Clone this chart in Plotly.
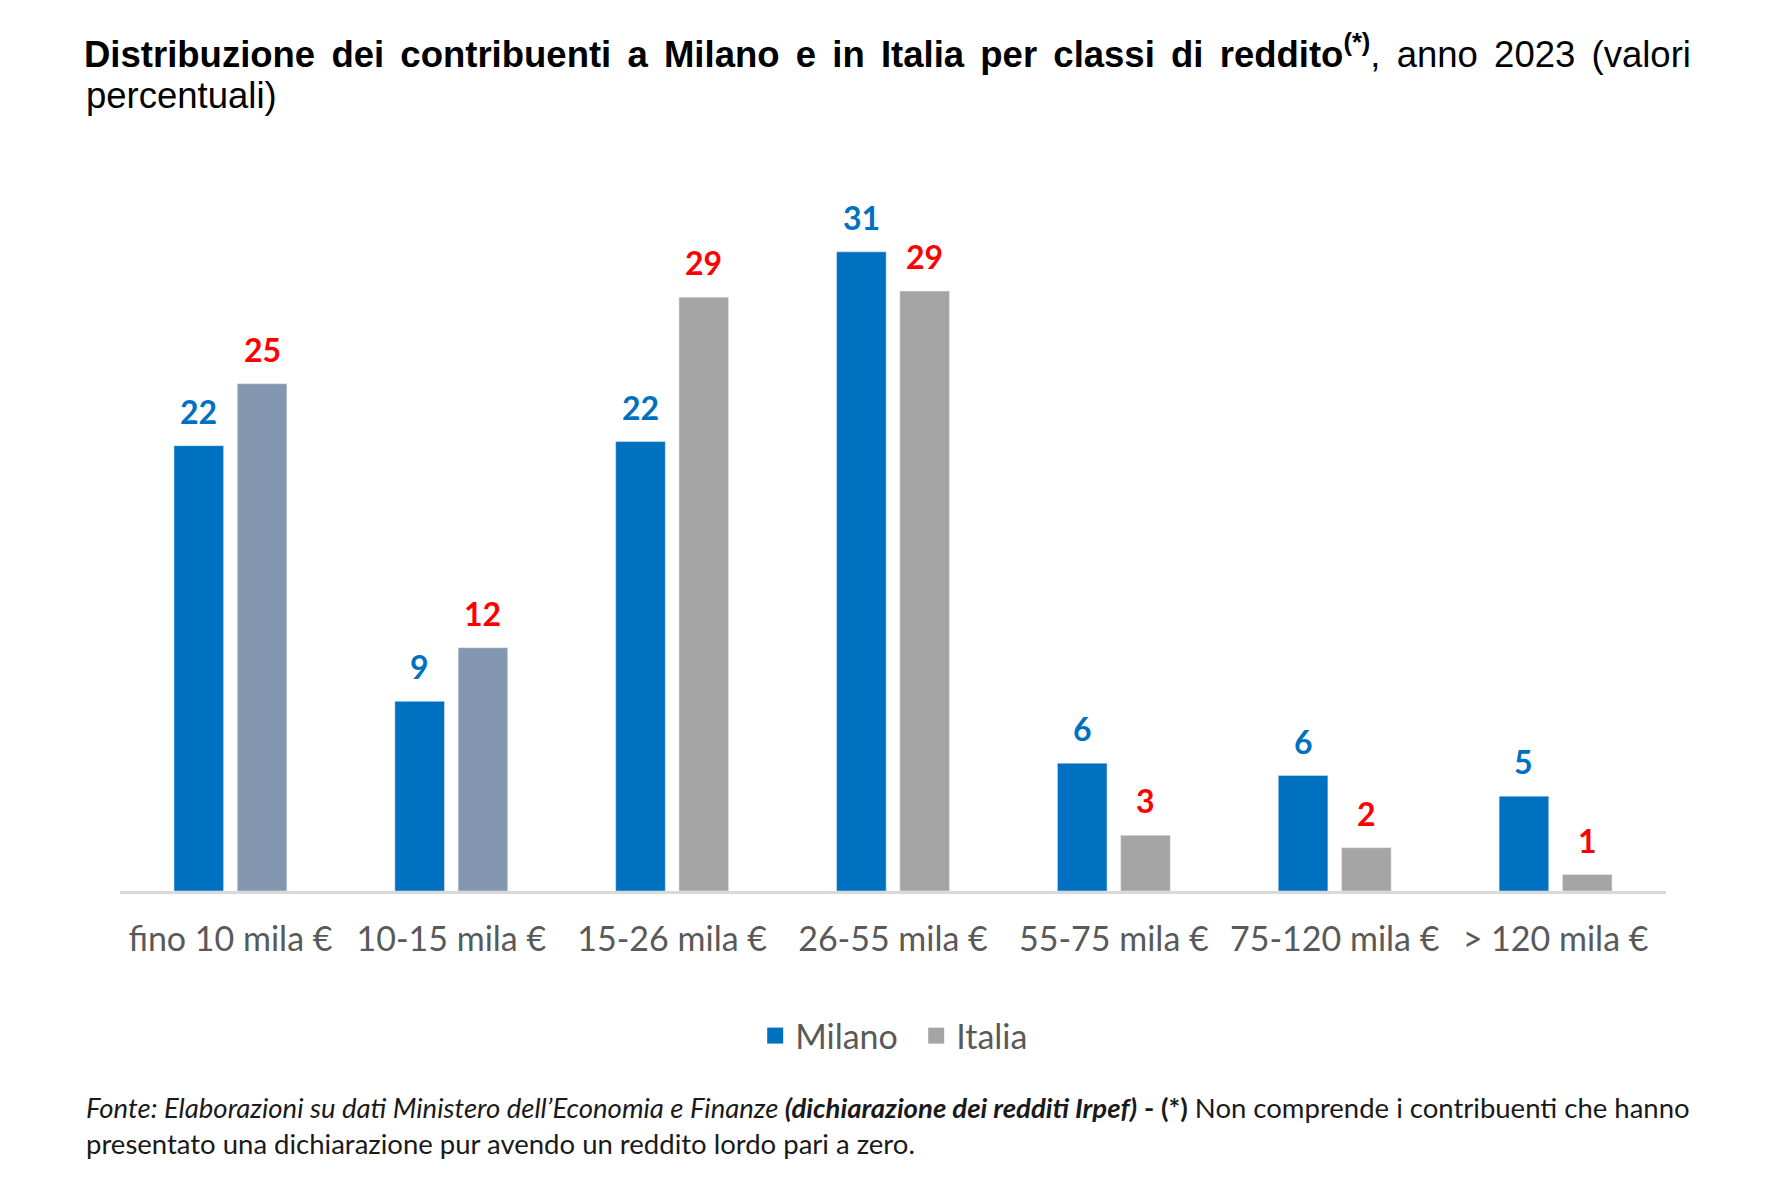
import plotly.graph_objects as go

categories = ["fino 10 mila €", "10-15 mila €", "15-26 mila €", "26-55 mila €",
              "55-75 mila €", "75-120 mila €", "> 120 mila €"]
milano = [21.6, 9.2, 21.8, 31.0, 6.2, 5.6, 4.6]
italia = [24.6, 11.8, 28.8, 29.1, 2.7, 2.1, 0.8]
italia_colors = ["#8497B0", "#8497B0", "#A5A5A5", "#A5A5A5", "#A5A5A5", "#A5A5A5", "#A5A5A5"]

MILANO_C = "#0070C0"
ITALIA_C = "#A5A5A5"
LABEL_FONT = "Lato, 'Noto Sans', sans-serif"
TITLE_FONT = "'Liberation Sans', Arial, sans-serif"

PAGE_OFF = 8                      # default body margin of the html page
W, H = 1782 - 2 * PAGE_OFF, 1178 - 2 * PAGE_OFF
L, R, T, B = 112, 108, 182, 279
PLOT_W, PLOT_H = W - L - R, H - T - B
PLOT_BOTTOM = H - B


def px_x(fig_x):
    return (fig_x - L) / PLOT_W


def px_y(fig_y):
    return (PLOT_BOTTOM - fig_y) / PLOT_H


BARGAP = 0.427
OFF = (1 - BARGAP) / 4  # center offset of each bar in a group

fig = go.Figure()
fig.add_trace(go.Bar(x=categories, y=milano, name="Milano", marker_color=MILANO_C,
                     showlegend=False, hoverinfo="x+y"))
fig.add_trace(go.Bar(x=categories, y=italia, name="Italia", marker_color=italia_colors,
                     showlegend=False, hoverinfo="x+y"))
# legend entries
fig.add_trace(go.Scatter(x=[None], y=[None], mode="markers", name="Milano",
                         marker=dict(symbol="square", size=20, color=MILANO_C)))
fig.add_trace(go.Scatter(x=[None], y=[None], mode="markers", name="Italia",
                         marker=dict(symbol="square", size=20, color=ITALIA_C)))

annotations = []
for i, (m, it) in enumerate(zip(milano, italia)):
    annotations.append(dict(x=i - OFF, y=m, xref="x", yref="y", text=f"<b>{m:.0f}</b>",
                            showarrow=False, yanchor="bottom", yshift=13,
                            font=dict(family=LABEL_FONT, size=32, color=MILANO_C)))
    annotations.append(dict(x=i + OFF, y=it, xref="x", yref="y", text=f"<b>{it:.0f}</b>",
                            showarrow=False, yanchor="bottom", yshift=13,
                            font=dict(family=LABEL_FONT, size=32, color="#FF0000")))

# second line of the title
annotations.append(dict(x=px_x(76), y=px_y(88), xref="paper", yref="paper",
                        xanchor="left", yanchor="middle", showarrow=False,
                        text="percentuali)",
                        font=dict(family=TITLE_FONT, size=36.5, color="#000000")))

foot = ("<i>Fonte: Elaborazioni su dati Ministero dell’Economia e Finanze "
        "<b>(dichiarazione dei redditi Irpef)</b></i> <b>- (*)</b> Non comprende i contribuenti che hanno"
        "<br>presentato una dichiarazione pur avendo un reddito lordo pari a zero.")
annotations.append(dict(x=px_x(76), y=px_y(1081), xref="paper", yref="paper",
                        xanchor="left", yanchor="top", align="left", showarrow=False,
                        text=foot,
                        font=dict(family=LABEL_FONT, size=27.5, color="#1A1A1A")))

sp = " \u2006"
title_bold = sp.join("Distribuzione dei contribuenti a Milano e in Italia per classi di reddito".split(" "))
title_rest = sp.join(", anno 2023 (valori".split(" "))
title_text = f"<b>{title_bold}<sup>(*)</sup></b>{title_rest}"

fig.update_layout(
    width=W, height=H,
    margin=dict(l=L, r=R, t=T, b=B),
    paper_bgcolor="white", plot_bgcolor="white",
    barmode="group", bargap=BARGAP, bargroupgap=0.216,
    title=dict(text=title_text, xref="container", yref="container",
               x=76 / W, xanchor="left", y=1 - 46 / H, yanchor="middle",
               font=dict(family=TITLE_FONT, size=36.5, color="#000000")),
    xaxis=dict(showline=True, linecolor="#D9D9D9", linewidth=3, showgrid=False,
               ticks="", ticklabelstandoff=16,
               tickfont=dict(family=LABEL_FONT, size=34, color="#595959")),
    yaxis=dict(range=[0, 34], visible=False, showgrid=False, zeroline=False),
    legend=dict(orientation="h", x=0.515, xanchor="center",
                y=px_y(1028), yanchor="middle",
                font=dict(family=LABEL_FONT, size=34, color="#595959"),
                itemwidth=30, entrywidth=116),
    annotations=annotations,
)

fig.write_html("out.html")
